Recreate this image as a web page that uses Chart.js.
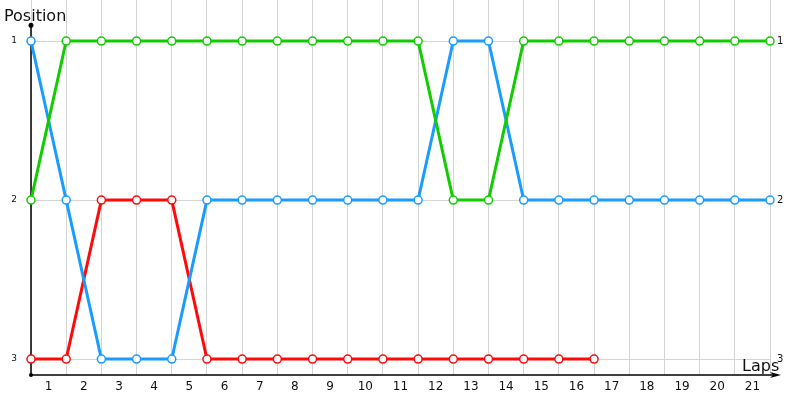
<!DOCTYPE html>
<html>
<head>
<meta charset="utf-8">
<script src="https://cdn.jsdelivr.net/npm/chart.js@4"></script>
<style>
    html, body { margin: 0; padding: 0; background: #ffffff; }
    #wrap { width: 800px; height: 400px; position: relative; }
</style>
</head>
<body>
<div id="wrap"><canvas id="lapChart"></canvas></div>
<script>
// Lap chart data
const laps = [0, 1, 2, 3, 4, 5, 6, 7, 8, 9, 10, 11, 12, 13, 14, 15, 16, 17, 18, 19, 20, 21];
const lapLabels = ['1', '2', '3', '4', '5', '6', '7', '8', '9', '10', '11', '12', '13', '14', '15', '16', '17', '18', '19', '20', '21'];
const positions = [1, 2, 3];
const greenPos = [2, 1, 1, 1, 1, 1, 1, 1, 1, 1, 1, 1, 2, 2, 1, 1, 1, 1, 1, 1, 1, 1];
const bluePos = [1, 2, 3, 3, 3, 2, 2, 2, 2, 2, 2, 2, 1, 1, 2, 2, 2, 2, 2, 2, 2, 2];
const redPos = [3, 3, 2, 2, 2, 3, 3, 3, 3, 3, 3, 3, 3, 3, 3, 3, 3];

const GREEN = '#11cc00';
const BLUE = '#1a9cff';
const RED = '#ff0a0a';
const FONT = 'DejaVu Sans';

function toPoints(values) {
    return values.map((v, i) => ({ x: laps[i], y: v }));
}

function series(values, color) {
    return {
        data: toPoints(values),
        borderColor: color,
        backgroundColor: '#ffffff',
        borderWidth: 3,
        pointRadius: 4,
        pointBorderWidth: 1.5,
        pointBorderColor: color,
        pointBackgroundColor: '#ffffff',
        tension: 0,
        fill: false,
        clip: false
    };
}

// no extra room around the scales, the chart area fills the canvas
function noPad(scale) {
    scale.paddingTop = 0;
    scale.paddingBottom = 0;
    scale.paddingLeft = 0;
    scale.paddingRight = 0;
}

// axes with arrows (under the lines) and the two titles
const axisDecor = {
    id: 'axisDecor',
    beforeDatasetsDraw(chart) {
        const ctx = chart.ctx;
        const x = chart.scales.x;
        const y = chart.scales.y;
        const left = x.getPixelForValue(0);
        const bottom = y.getPixelForValue(3.1);
        const top = y.getPixelForValue(0.9);
        ctx.save();
        ctx.strokeStyle = '#000000';
        ctx.fillStyle = '#000000';
        ctx.lineWidth = 1.5;
        ctx.beginPath();
        ctx.moveTo(left, bottom);
        ctx.lineTo(left, top);
        ctx.moveTo(left, bottom);
        ctx.lineTo(x.getPixelForValue(21) + 4, bottom);
        ctx.stroke();
        // top dot
        ctx.beginPath();
        ctx.arc(left, top, 2.5, 0, Math.PI * 2);
        ctx.fill();
        // origin dot
        ctx.beginPath();
        ctx.arc(left, bottom, 2, 0, Math.PI * 2);
        ctx.fill();
        // right arrow
        const ax = x.getPixelForValue(21) + 11;
        ctx.beginPath();
        ctx.moveTo(ax, bottom);
        ctx.lineTo(ax - 11, bottom - 3);
        ctx.lineTo(ax - 8, bottom);
        ctx.lineTo(ax - 11, bottom + 3);
        ctx.closePath();
        ctx.fill();
        ctx.restore();
    },
    afterDraw(chart) {
        const ctx = chart.ctx;
        ctx.save();
        ctx.fillStyle = '#111111';
        ctx.font = '16px ' + FONT;
        ctx.textAlign = 'left';
        ctx.textBaseline = 'alphabetic';
        ctx.fillText('Position', 4, 21);
        ctx.fillText('Laps', 742, 371);
        ctx.restore();
    }
};

const ctx = document.getElementById('lapChart');
new Chart(ctx, {
    type: 'line',
    data: {
        datasets: [
            series(greenPos, GREEN),
            series(bluePos, BLUE),
            series(redPos, RED)
        ]
    },
    options: {
        responsive: true,
        maintainAspectRatio: false,
        animation: false,
        layout: { padding: 0, autoPadding: false },
        plugins: {
            legend: { display: false },
            tooltip: { enabled: false }
        },
        scales: {
            x: {
                type: 'linear',
                position: 'bottom',
                min: 0,
                max: 21,
                afterBuildTicks: (scale) => { scale.ticks = laps.map(v => ({ value: v })); },
                afterFit: (scale) => { scale.height = 0; noPad(scale); },
                grid: { color: '#d4d4d4', lineWidth: 1, drawTicks: false },
                border: { display: false },
                ticks: { display: false }
            },
            x2: {
                type: 'linear',
                position: 'bottom',
                min: 0,
                max: 21,
                afterBuildTicks: (scale) => { scale.ticks = lapLabels.map((l, i) => ({ value: i + 0.5 })); },
                afterFit: (scale) => { scale.height = 25; noPad(scale); },
                grid: { display: false, drawTicks: false },
                border: { display: false },
                ticks: {
                    padding: 5,
                    maxRotation: 0,
                    autoSkip: false,
                    color: '#111111',
                    font: { family: FONT, size: 12 },
                    callback: (v) => lapLabels[Math.round(v - 0.5)]
                }
            },
            y: {
                type: 'linear',
                position: 'left',
                reverse: true,
                min: 0.742,
                max: 3.1,
                afterBuildTicks: (scale) => { scale.ticks = positions.map(v => ({ value: v })); },
                afterFit: (scale) => { scale.width = 31; noPad(scale); },
                grid: { color: '#d4d4d4', lineWidth: 1, drawTicks: false },
                border: { display: false },
                ticks: {
                    padding: 14,
                    color: '#111111',
                    font: { family: FONT, size: 9 }
                }
            },
            y2: {
                type: 'linear',
                position: 'right',
                reverse: true,
                min: 0.742,
                max: 3.1,
                afterBuildTicks: (scale) => { scale.ticks = positions.map(v => ({ value: v })); },
                afterFit: (scale) => { scale.width = 30; noPad(scale); },
                grid: { display: false, drawTicks: false },
                border: { display: false },
                ticks: {
                    padding: 7,
                    color: '#111111',
                    font: { family: FONT, size: 10 }
                }
            }
        }
    },
    plugins: [axisDecor]
});
</script>
</body>
</html>
